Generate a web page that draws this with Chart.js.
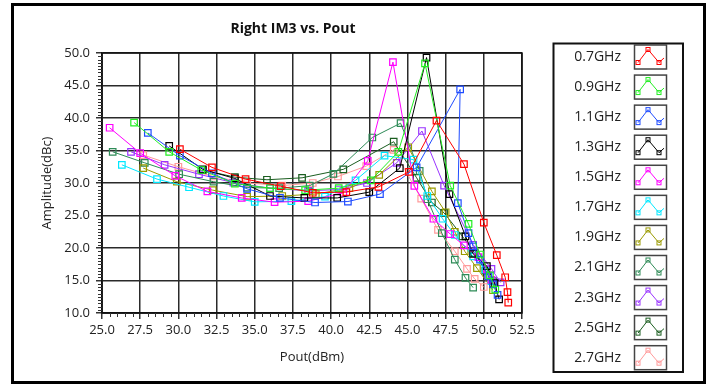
<!DOCTYPE html>
<html>
<head>
<meta charset="utf-8">
<script src="https://cdn.jsdelivr.net/npm/chart.js@4.4.1/dist/chart.umd.min.js"></script>
<style>
  html, body { margin: 0; padding: 0; background: #fff; }
  #wrap { width: 714px; height: 387px; }
</style>
</head>
<body>
<div id="wrap"><canvas id="grafica" width="714" height="387"></canvas></div>
<script>
// frecuencias (leyenda)
const frecuencias = ['0.7GHz', '0.9GHz', '1.1GHz', '1.3GHz', '1.5GHz', '1.7GHz', '1.9GHz', '2.1GHz', '2.3GHz', '2.5GHz', '2.7GHz'];

// Pout (dBm) / IM3 (dBc) de cada curva
const pout07 = [30.1, 32.2, 34.4, 36.7, 38.8, 41.0, 43.1, 45.1, 46.9, 48.7, 50.0, 50.85, 51.4, 51.55, 51.6];
const im307  = [35.2, 32.4, 30.6, 29.5, 28.5, 28.6, 29.4, 31.7, 39.6, 32.9, 23.9, 18.9, 15.5, 13.2, 11.6];

const pout09 = [27.1, 29.4, 31.5, 33.7, 36.0, 38.3, 40.5, 42.6, 44.4, 46.15, 47.8, 49.0, 49.75, 50.4, 50.75];
const im309  = [39.3, 34.8, 32.0, 29.9, 29.2, 28.9, 29.2, 30.4, 34.8, 48.4, 29.6, 23.7, 19.0, 15.8, 13.6];

const pout11 = [28.0, 30.1, 32.2, 34.5, 36.65, 38.95, 41.1, 43.2, 45.6, 48.45, 48.3, 49.0, 49.3, 49.75, 50.3, 50.6, 50.9];
const im311  = [37.7, 34.2, 31.5, 29.1, 27.7, 27.0, 27.15, 28.3, 32.4, 44.4, 26.9, 22.3, 20.25, 18.2, 15.65, 14.4, 12.8];

const pout13 = [29.4, 31.6, 33.7, 36.0, 38.25, 40.4, 42.5, 44.5, 46.25, 47.75, 48.8, 49.3, 50.2, 50.7, 51.0];
const im313  = [35.7, 32.1, 30.7, 28.0, 27.7, 27.7, 28.6, 32.3, 49.3, 28.3, 21.8, 19.1, 17.2, 14.6, 12.1];

const pout15 = [25.5, 27.5, 29.8, 31.9, 34.15, 36.3, 38.5, 40.8, 42.4, 44.05, 45.45, 46.7, 47.8, 48.7, 49.65, 50.2, 50.5];
const im315  = [38.5, 34.6, 31.1, 28.7, 27.7, 27.05, 27.2, 28.5, 33.4, 48.6, 29.55, 24.5, 22.15, 20.4, 18.6, 16.7, 15.1];

const pout17 = [26.3, 28.6, 30.7, 32.95, 35.0, 37.4, 39.6, 41.6, 43.5, 45.4, 46.3, 47.3, 48.1, 49.3, 50.1, 50.5];
const im317  = [32.8, 30.6, 29.35, 28.0, 27.1, 27.2, 27.9, 30.4, 34.2, 33.6, 28.0, 24.5, 22.0, 18.7, 16.7, 14.9];

const pout19 = [27.7, 29.9, 32.25, 34.5, 36.8, 39.0, 41.2, 43.15, 45.05, 46.6, 47.5, 48.1, 48.75, 49.55, 50.6];
const im319  = [32.3, 30.2, 28.9, 27.9, 28.0, 28.3, 29.2, 31.25, 35.5, 28.7, 25.5, 22.5, 19.5, 16.9, 13.5];

const pout21 = [25.7, 27.8, 30.05, 32.3, 34.5, 36.6, 38.6, 40.15, 42.7, 44.55, 45.8, 46.3, 47.25, 48.1, 48.8, 49.3];
const im321  = [34.8, 33.1, 31.35, 30.2, 29.3, 29.2, 29.6, 31.4, 37.0, 39.2, 31.85, 27.5, 22.3, 18.2, 15.4, 13.9];

const pout23 = [26.9, 29.1, 31.35, 33.6, 36.0, 38.5, 40.5, 42.35, 44.3, 45.95, 47.4, 49.3, 50.5, 51.1];
const im323  = [34.8, 32.8, 31.35, 30.05, 29.2, 28.8, 29.0, 30.0, 33.1, 38.0, 29.6, 20.5, 16.8, 14.7];

const pout25 = [31.6, 33.7, 35.8, 38.1, 40.8, 44.1, 45.6, 46.6, 47.4, 48.6, 49.4, 50.1, 50.6];
const im325  = [32.0, 30.9, 30.5, 30.8, 32.1, 36.35, 30.8, 27.0, 25.4, 21.8, 19.2, 16.5, 14.9];

const pout27 = [27.7, 30.0, 32.3, 34.5, 36.8, 38.8, 40.45, 42.3, 44.1, 45.9, 47.0, 48.1, 48.9, 49.4, 50.0];
const im327  = [34.3, 32.5, 31.0, 30.0, 29.6, 30.0, 31.0, 32.6, 35.1, 27.6, 22.8, 19.5, 16.8, 15.25, 14.0];

const seriesX = [pout07, pout09, pout11, pout13, pout15, pout17, pout19, pout21, pout23, pout25, pout27];
const seriesY = [im307, im309, im311, im313, im315, im317, im319, im321, im323, im325, im327];
const colores = ['#ff0000', '#22ee22', '#1f4cff', '#000000', '#ff00ff', '#00e8ff', '#9a9a00', '#2e8b57', '#9933ff', '#1b5e20', '#ff9a9a'];

function armarPuntos(xs, ys) {
    let puntos = [];
    for (let i = 0; i < xs.length; i++) {
        puntos.push({x: xs[i], y: ys[i]});
    }
    return puntos;
}

let datasets = [];
for (let i = 0; i < frecuencias.length; i++) {
    datasets.push({
        label: frecuencias[i],
        data: armarPuntos(seriesX[i], seriesY[i]),
        showLine: true,
        borderColor: colores[i],
        borderWidth: 1,
        pointStyle: 'rect',
        pointRadius: 4.6,
        pointBorderWidth: 1.2,
        pointBorderColor: colores[i],
        pointBackgroundColor: 'rgba(0,0,0,0)',
        tension: 0
    });
}

const FUENTE = '"Open Sans", "DejaVu Sans", sans-serif';

function esMayor(v, paso) {
    return Math.abs(v / paso - Math.round(v / paso)) < 1e-6;
}

// titulo, marcos, marcas menores y leyenda
const decorado = {
    id: 'decorado',
    beforeDraw(chart) {
        const ctx = chart.ctx;
        ctx.save();
        ctx.fillStyle = '#ffffff';
        ctx.fillRect(0, 0, chart.width, chart.height);
        ctx.restore();
    },
    afterDraw(chart) {
        const ctx = chart.ctx;
        const a = chart.chartArea;
        ctx.save();

        // marco del area de trazado
        ctx.strokeStyle = '#111';
        ctx.lineWidth = 1.5;
        ctx.strokeRect(a.left, a.top, a.right - a.left, a.bottom - a.top);

        // marcas menores
        ctx.strokeStyle = '#333';
        ctx.lineWidth = 1;
        ctx.beginPath();
        for (const t of chart.scales.x.ticks) {
            if (esMayor(t.value, 2.5)) continue;
            const px = Math.round(chart.scales.x.getPixelForValue(t.value)) + 0.5;
            ctx.moveTo(px, a.bottom);
            ctx.lineTo(px, a.bottom + 4);
        }
        for (const t of chart.scales.y.ticks) {
            if (esMayor(t.value, 5)) continue;
            const py = Math.round(chart.scales.y.getPixelForValue(t.value)) + 0.5;
            ctx.moveTo(a.left, py);
            ctx.lineTo(a.left - 4, py);
        }
        ctx.stroke();

        // marco exterior
        ctx.lineWidth = 3;
        ctx.strokeStyle = '#000';
        ctx.strokeRect(12.5, 4.5, 692, 378);

        // titulo
        ctx.fillStyle = '#111';
        ctx.font = 'bold 14px ' + FUENTE;
        ctx.textAlign = 'center';
        ctx.textBaseline = 'middle';
        ctx.fillText('Right IM3 vs. Pout', 293, 29);

        // leyenda
        ctx.lineWidth = 2;
        ctx.strokeStyle = '#111';
        ctx.strokeRect(553.5, 43.5, 129.5, 328.5);

        for (let i = 0; i < frecuencias.length; i++) {
            const cy = 57 + i * 30.07;
            ctx.fillStyle = '#222';
            ctx.font = '14px ' + FUENTE;
            ctx.textAlign = 'right';
            ctx.textBaseline = 'middle';
            ctx.fillText(frecuencias[i], 621, cy);

            ctx.lineWidth = 1.5;
            ctx.strokeStyle = '#444';
            ctx.strokeRect(634.5, cy - 12, 32, 24);

            ctx.strokeStyle = colores[i];
            ctx.lineWidth = 1;
            ctx.beginPath();
            ctx.moveTo(638, cy + 5.5);
            ctx.lineTo(648, cy - 7.5);
            ctx.lineTo(659, cy + 5.5);
            ctx.lineTo(664, cy + 1);
            ctx.stroke();
            const marcas = [[638, cy + 5.5], [648, cy - 7.5], [659, cy + 5.5]];
            for (const m of marcas) {
                ctx.strokeRect(m[0] - 2, m[1] - 2, 4, 4);
            }
        }
        ctx.restore();
    }
};

const colorGrilla = (paso) => (c) => (c.tick && esMayor(c.tick.value, paso)) ? '#2a2a2a' : 'rgba(0,0,0,0)';
const colorMarca = (paso) => (c) => (c.tick && esMayor(c.tick.value, paso)) ? '#333' : 'rgba(0,0,0,0)';

new Chart(document.getElementById('grafica').getContext('2d'), {
    type: 'scatter',
    data: { datasets: datasets },
    plugins: [decorado],
    options: {
        responsive: false,
        animation: false,
        layout: { padding: { left: 0, top: 53, right: 192, bottom: 0 } },
        plugins: {
            legend: { display: false },
            tooltip: { enabled: false },
            title: { display: false }
        },
        scales: {
            x: {
                type: 'linear',
                min: 25,
                max: 52.5,
                afterFit: (s) => { s.height = 74; },
                ticks: {
                    stepSize: 0.5,
                    autoSkip: false,
                    maxRotation: 0,
                    padding: 3,
                    color: '#222',
                    font: { family: FUENTE, size: 13 },
                    callback: (v) => esMayor(v, 2.5) ? v.toFixed(1) : ''
                },
                grid: { color: colorGrilla(2.5), lineWidth: 1.5, tickColor: colorMarca(2.5), tickLength: 6 },
                border: { display: true, color: '#111', width: 1.5 },
                title: { display: true, text: 'Pout(dBm)', color: '#222', font: { family: FUENTE, size: 13 }, padding: { top: 0, bottom: 22 } }
            },
            y: {
                type: 'linear',
                min: 10,
                max: 50,
                afterFit: (s) => { s.width = 102; },
                ticks: {
                    stepSize: 0.5,
                    autoSkip: false,
                    padding: 6,
                    color: '#222',
                    font: { family: FUENTE, size: 13 },
                    callback: (v) => esMayor(v, 5) ? v.toFixed(1) : ''
                },
                grid: { color: colorGrilla(5), lineWidth: 1.5, tickColor: colorMarca(5), tickLength: 6 },
                border: { display: true, color: '#111', width: 1.5 },
                title: { display: true, text: 'Amplitude(dBc)', color: '#222', font: { family: FUENTE, size: 13 }, padding: { top: 39, bottom: 0 } }
            }
        }
    }
});
</script>
</body>
</html>
